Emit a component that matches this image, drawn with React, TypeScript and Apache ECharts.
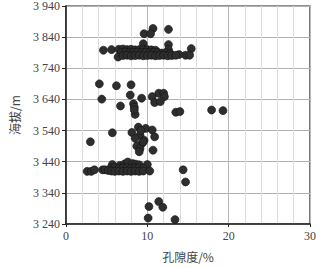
import React, { useEffect, useRef } from "react";
import * as echarts from "echarts";

// Porosity (%) and elevation (m) readings
const porosity: number[] = [
  // top outliers
  10.7, 9.6, 10.4, 12.6, 9.5, 12.6, 12.6, 4.6, 5.6, 15.4, 14.7, 15.2, 13.9,
  // top band upper row
  6.5, 7.0, 7.5, 8.0, 8.5, 9.0, 9.5, 10.0, 10.5, 11.0,
  // top band middle row
  6.8, 7.3, 7.8, 8.3, 8.8, 9.3, 9.8, 10.3, 10.8, 11.3, 11.8, 12.3, 12.8,
  // top band lower row
  6.4, 7.0, 7.5, 8.0, 8.5, 9.0, 9.5, 10.0, 10.5, 11.0, 11.5, 12.0, 12.5, 13.0, 13.5,
  // middle upper cluster
  4.1, 6.2, 8.0, 4.4, 7.9, 6.7, 8.3, 8.4, 8.5, 8.4, 9.3, 10.6, 10.9, 11.4, 12.0, 12.1, 11.6,
  13.5, 14.0, 17.9, 19.3,
  // middle lower cluster
  3.0, 5.7, 8.9, 9.8, 10.6, 8.1, 9.1, 8.5, 10.9, 9.6, 9.3, 8.7, 9.1, 9.0, 10.7, 9.5, 9.2,
  // lower band top row
  5.7, 6.6, 7.2, 7.6, 8.2, 8.6, 9.0, 10.0,
  // lower band middle row
  5.5, 6.0, 6.5, 7.0, 7.5, 8.0, 8.5, 9.0, 9.5,
  // lower band bottom row
  2.6, 3.1, 3.5, 4.5, 4.8, 5.2, 5.6, 6.0, 6.5, 7.0, 7.5, 8.0, 8.5, 9.0, 9.5, 10.3,
  // bottom outliers
  14.4, 14.7, 11.4, 10.2, 11.9, 10.1, 13.4,
];

const elevation: number[] = [
  3868, 3851, 3851, 3865, 3819, 3816, 3800, 3798, 3800, 3803, 3782, 3782, 3784,
  3801, 3802, 3800, 3801, 3799, 3800, 3801, 3800, 3799, 3798,
  3791, 3792, 3790, 3791, 3792, 3790, 3791, 3790, 3792, 3791, 3789, 3790, 3788,
  3776, 3781, 3782, 3780, 3781, 3782, 3780, 3781, 3782, 3780, 3781, 3782, 3780, 3781, 3782,
  3690, 3684, 3687, 3641, 3654, 3619, 3626, 3615, 3592, 3606, 3644, 3649, 3630, 3660, 3660, 3649, 3633,
  3599, 3601, 3606, 3604,
  3504, 3533, 3551, 3547, 3542, 3534, 3525, 3515, 3520, 3509, 3498, 3490, 3482, 3472, 3477, 3503, 3540,
  3431, 3428, 3433, 3439, 3434, 3432, 3430, 3431,
  3420, 3421, 3419, 3420, 3421, 3419, 3420, 3421, 3419,
  3409, 3409, 3414, 3414, 3414, 3412, 3410, 3409, 3410, 3409, 3410, 3409, 3410, 3409, 3410, 3410,
  3414, 3375, 3312, 3296, 3294, 3259, 3254,
];

const xTicks = [0, 10, 20, 30];
const yTickLabels = ["3 240", "3 340", "3 440", "3 540", "3 640", "3 740", "3 840", "3 940"];

const SERIF = "'Liberation Serif', 'Times New Roman', serif";
const CJK = "'Noto Sans CJK SC', sans-serif";

export default function App() {
  const ref = useRef<HTMLDivElement>(null);
  useEffect(() => {
    if (!ref.current) return;
    const chart = echarts.init(ref.current, undefined, { renderer: "svg" });
    const data = porosity.map((x, i) => [x, elevation[i]]);
    chart.setOption({
      animation: false,
      backgroundColor: "#fff",
      grid: {
        left: 60,
        right: 13,
        top: 6,
        bottom: 43,
        show: true,
        borderColor: "#222",
        borderWidth: 1.2,
      },
      xAxis: {
        type: "value",
        min: xTicks[0],
        max: xTicks[xTicks.length - 1],
        interval: 10,
        name: "孔隙度/%",
        nameLocation: "middle",
        nameGap: 26,
        nameTextStyle: { fontFamily: CJK, fontSize: 12, color: "#444" },
        axisLine: { show: true, lineStyle: { color: "#222", width: 1.5 } },
        axisTick: { show: true, length: 3, lineStyle: { color: "#222" } },
        axisLabel: { fontFamily: SERIF, fontSize: 12, color: "#444", margin: 6 },
        splitLine: { show: true, lineStyle: { color: "#b8b8b8", width: 1 } },
        minorTick: { show: false, splitNumber: 5 },
        minorSplitLine: { show: true, lineStyle: { color: "#dcdcdc", width: 1 } },
      },
      yAxis: {
        type: "value",
        min: 3240,
        max: 3940,
        interval: 100,
        name: "海拔/m",
        nameLocation: "middle",
        nameGap: 46,
        nameTextStyle: { fontFamily: CJK, fontSize: 12, color: "#444" },
        axisLine: { show: true, lineStyle: { color: "#222", width: 1.5 } },
        axisTick: { show: true, length: 4, lineStyle: { color: "#222" } },
        axisLabel: {
          fontFamily: SERIF,
          fontSize: 12,
          color: "#444",
          margin: 6,
          formatter: (v: number) => {
            const idx = Math.round((v - 3240) / 100);
            return yTickLabels[idx] ?? "";
          },
        },
        splitLine: { show: true, lineStyle: { color: "#b0b0b0", width: 1 } },
      },
      series: [
        {
          type: "scatter",
          data,
          symbol: "circle",
          symbolSize: 8,
          itemStyle: { color: "#2e2e2e", borderColor: "#111", borderWidth: 0.6, opacity: 1 },
        },
      ],
    });
    return () => chart.dispose();
  }, []);
  return (
    <div
      ref={ref}
      style={{ position: "fixed", left: 0, top: 0, width: 323, height: 267 }}
    />
  );
}
